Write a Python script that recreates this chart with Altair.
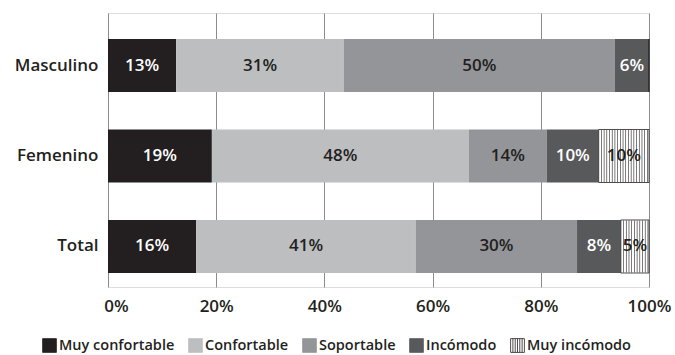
import altair as alt
import pandas as pd

groups = ["Masculino", "Femenino", "Total"]
categories = ["Muy confortable", "Confortable", "Soportable", "Incómodo", "Muy incómodo"]
colors = ["#231f20", "#bcbec0", "#939598", "#58595b", "#ffffff"]
outline_colors = ["#231f20", "#bcbec0", "#939598", "#58595b", "#231f20"]
text_colors = ["#ffffff", "#231f20", "#231f20", "#ffffff", "#231f20"]

masculino = [12.6, 31.0, 50.1, 6.3, 0.0]
femenino = [19.2, 47.5, 14.4, 9.6, 9.3]
total = [16.3, 40.6, 29.8, 8.1, 5.2]

masculino_lbl = ["13%", "31%", "50%", "6%", ""]
femenino_lbl = ["19%", "48%", "14%", "10%", "10%"]
total_lbl = ["16%", "41%", "30%", "8%", "5%"]

x_ticks = [0, 20, 40, 60, 80, 100]

rows = []
for g, vals, lbls in [("Masculino", masculino, masculino_lbl),
                      ("Femenino", femenino, femenino_lbl),
                      ("Total", total, total_lbl)]:
    for i, (c, v, l) in enumerate(zip(categories, vals, lbls)):
        rows.append({"group": g, "category": c, "order": i, "value": v,
                     "label": l, "tcolor": text_colors[i]})
df = pd.DataFrame(rows)

FONT = "Open Sans"
W = 600
DARK = "#231f20"

base = alt.Chart(df).transform_stack(
    stack="value", groupby=["group"], as_=["x0", "x1"],
    sort=[alt.SortField("order", order="ascending")]
).transform_calculate(mid="(datum.x0 + datum.x1) / 2")

y_enc = alt.Y("group:N", sort=groups, title=None,
              scale=alt.Scale(paddingInner=0.414, paddingOuter=0.221, align=0.65),
              axis=alt.Axis(ticks=False, domain=False, labelFont=FONT, labelFontSize=17,
                            labelFontWeight=W, labelColor=DARK, labelPadding=10))

x_scale = alt.Scale(domain=[0, 100], nice=False)
x_axis = alt.Axis(values=x_ticks, format=".0f", labelExpr="datum.value + '%'",
                  grid=True, gridColor="#8c8c8c", gridWidth=1, ticks=False, domain=False,
                  labelFont=FONT, labelFontSize=17, labelFontWeight=W,
                  labelColor=DARK, labelPadding=11, labelFlush=False,
                  labelOffset={"condition": {"test": "datum.value == 0", "value": 8}, "value": 0})

sq = "M-1,-1H1V1H-1Z"
striped = ("M-1,-1H1V1H-1Z M-0.67,-1V1 M-0.33,-1V1 M0,-1V1 "
           "M0.33,-1V1 M0.67,-1V1")

legend = alt.Legend(
    orient="none", direction="horizontal", legendX=-66, legendY=325, title=None,
    labelFont=FONT, labelFontSize=14.5, labelFontWeight=W, labelColor=DARK,
    labelOffset=2, columnPadding=12, symbolSize=190, symbolStrokeWidth=0.8,
    symbolOpacity=1,
    symbolType=alt.ExprRef(expr="datum.value === 'Muy incómodo' ? '" + striped + "' : '" + sq + "'"),
)

bars = base.mark_bar().encode(
    x=alt.X("x0:Q", scale=x_scale, axis=x_axis, title=None),
    x2="x1:Q",
    y=y_enc,
    color=alt.Color("category:N", scale=alt.Scale(domain=categories, range=colors), legend=legend),
    stroke=alt.Stroke("category:N", scale=alt.Scale(domain=categories, range=outline_colors),
                      legend=legend),
    strokeWidth=alt.condition("datum.category == 'Muy incómodo'", alt.value(0.8), alt.value(0)),
)

stripes = base.transform_filter(
    "datum.category == 'Muy incómodo' && datum.value > 0"
).transform_calculate(
    stripe="sequence(datum.x0 + 0.5, datum.x1, 0.5)"
).transform_flatten(["stripe"]).mark_tick(
    orient="vertical", thickness=0.6, size=52, color=DARK, opacity=1
).encode(
    x=alt.X("stripe:Q", scale=x_scale),
    y=alt.Y("group:N", sort=groups),
)

text = base.transform_filter("datum.label != ''").mark_text(
    font=FONT, fontSize=17, fontWeight=W
).encode(
    x=alt.X("mid:Q", scale=x_scale),
    y=alt.Y("group:N", sort=groups),
    text="label:N",
    color=alt.Color("tcolor:N", scale=None),
)

chart = alt.layer(bars, stripes, text).properties(
    width=541, height=274,
    autosize=alt.AutoSizeParams(type="none"),
    padding={"left": 108, "top": 13, "right": 26, "bottom": 68},
).configure_view(stroke=None).configure(background="white")

chart.save("out.html", embed_options={"renderer": "svg", "actions": False})
